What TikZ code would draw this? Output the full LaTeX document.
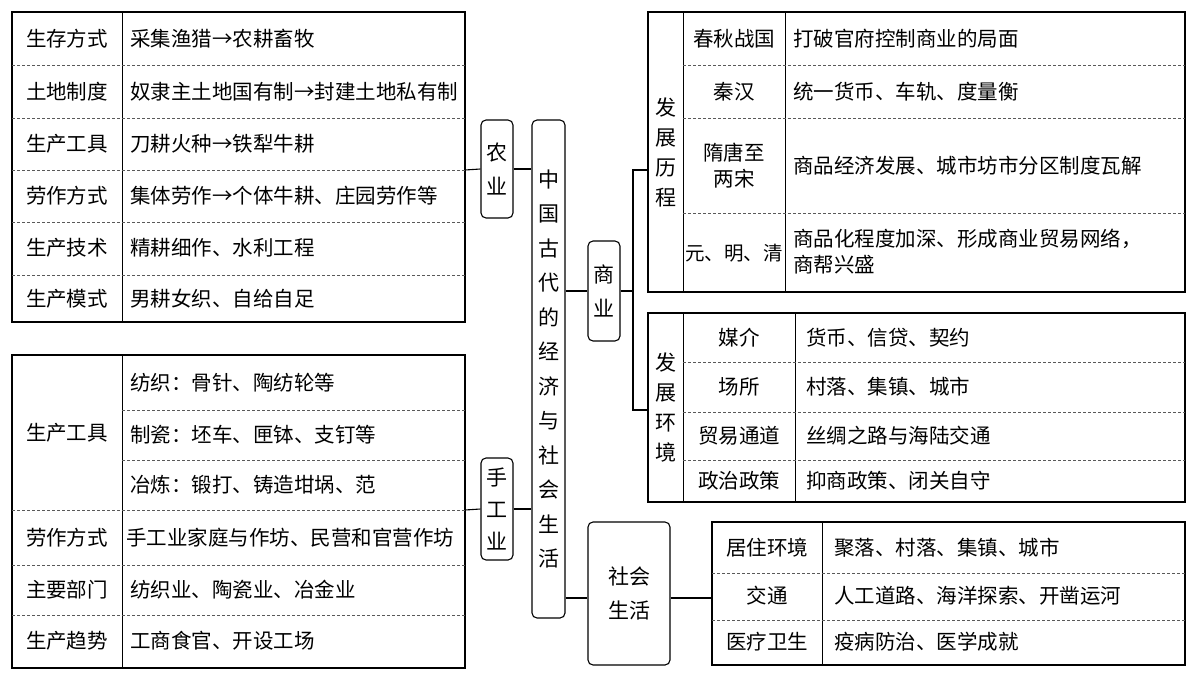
\documentclass[tikz,border=0pt]{standalone}
\usepackage{fontspec}
\setmainfont{Noto Sans CJK SC}
\begin{document}
\begin{tikzpicture}[x=1pt,y=-1pt,
 t/.style={font=\fontsize{20.5}{26}\selectfont,inner sep=0pt,align=center},
 l/.style={t,anchor=west},
 box/.style={draw,line width=1.1pt},
 dl/.style={draw,densely dashed,line width=0.5pt,gray!70!black},
 sl/.style={draw,line width=0.9pt},
 rb/.style={draw,line width=1.1pt,rounded corners=5pt,inner sep=0pt},
 cn/.style={line width=1.1pt}]
\useasboundingbox (0,0) rectangle (1200,675);
% ---- left top table
\draw[box] (12,12) rectangle (465,322);
\draw[sl] (122,12) -- (122,322);
\foreach \y in {65,118,170,222,275} \draw[dl] (12,\y) -- (465,\y);
\node[t] (a1) at (67,39) {生存方式}; \node[l] (b1) at (130,39) {采集渔猎→农耕畜牧};
\node[t] (a2) at (67,92) {土地制度}; \node[l] (b2) at (130,92) {奴隶主土地国有制→封建土地私有制};
\node[t] (a3) at (67,144) {生产工具}; \node[l] (b3) at (130,144) {刀耕火种→铁犁牛耕};
\node[t] (a4) at (67,196) {劳作方式}; \node[l] (b4) at (130,196) {集体劳作→个体牛耕、庄园劳作等};
\node[t] (a5) at (67,248) {生产技术}; \node[l] (b5) at (130,248) {精耕细作、水利工程};
\node[t] (a6) at (67,299) {生产模式}; \node[l] (b6) at (130,299) {男耕女织、自给自足};
\coordinate (T1) at (465,170);
% ---- left bottom table
\draw[box] (12,355) rectangle (465,668);
\draw[sl] (122,355) -- (122,668);
\foreach \y in {410,460} \draw[dl] (122,\y) -- (465,\y);
\foreach \y in {510,565,615} \draw[dl] (12,\y) -- (465,\y);
\node[t] (c1) at (67,433) {生产工具};
\node[l] (d1) at (130,383) {纺织：骨针、陶纺轮等};
\node[l] (d2) at (130,435) {制瓷：坯车、匣钵、支钉等};
\node[l] (d3) at (130,485) {冶炼：锻打、铸造坩埚、范};
\node[t] (c2) at (67,538) {劳作方式}; \node[l] (d4) at (126,538) {手工业家庭与作坊、民营和官营作坊};
\node[t] (c3) at (67,590) {主要部门}; \node[l] (d5) at (130,590) {纺织业、陶瓷业、冶金业};
\node[t] (c4) at (67,641) {生产趋势}; \node[l] (d6) at (130,641) {工商食官、开设工场};
\coordinate (T2) at (465,510);
% ---- middle boxes
\node[rb,t,minimum width=32pt,minimum height=98pt,font=\fontsize{21}{34}\selectfont] (ny) at (497,169) {农\\业};
\node[rb,t,minimum width=32pt,minimum height=102pt,font=\fontsize{21}{32}\selectfont] (sg) at (497,509) {手\\工\\业};
\node[rb,t,minimum width=33pt,minimum height=498pt,font=\fontsize{21}{34.5}\selectfont] (zx) at (548.5,369) {中\\国\\古\\代\\的\\经\\济\\与\\社\\会\\生\\活};
\node[rb,t,minimum width=32pt,minimum height=100pt,font=\fontsize{21}{34}\selectfont] (sy) at (604,291) {商\\业};
\node[rb,t,minimum width=82pt,minimum height=143pt,font=\fontsize{21}{34}\selectfont] (sh) at (629,593.5) {社会\\生活};
\draw[cn] (T1) -- (ny.west);
\draw[cn] (ny.east) -- (ny.east -| zx.west);
\draw[cn] (T2) -- (sg.west);
\draw[cn] (sg.east) -- (sg.east -| zx.west);
\draw[cn] (sy.west -| zx.east) -- (sy.west);
\coordinate (br1) at (633,170);
\coordinate (br2) at (633,410);
\draw[cn] (sy.east) -- (633,291);
\draw[cn] (648,170) -- (br1) -- (br2) -- (648,410);
\draw[cn] (zx.east |- 0,598) -- (sh.west |- 0,598);
\draw[cn] (sh.east |- 0,598) -- (712,598);
% ---- right top table
\draw[box] (648,12) rectangle (1185,292);
\draw[sl] (683,12) -- (683,292); \draw[sl] (785,12) -- (785,292);
\foreach \y in {65,118,213} \draw[dl] (683,\y) -- (1185,\y);
\node[t,font=\fontsize{21}{30}\selectfont] (e0) at (665.5,152) {发\\展\\历\\程};
\node[t] (e1) at (734,39) {春秋战国}; \node[l] (f1) at (793,39) {打破官府控制商业的局面};
\node[t] (e2) at (734,92) {秦汉}; \node[l] (f2) at (793,92) {统一货币、车轨、度量衡};
\node[t] (e3) at (734,166) {隋唐至\\两宋}; \node[l] (f3) at (793,166) {商品经济发展、城市坊市分区制度瓦解};
\node[t,font=\fontsize{19.5}{24}\selectfont] (e4) at (734,253) {元、明、清}; \node[l,align=left] (f4) at (793,252) {商品化程度加深、形成商业贸易网络，\\商帮兴盛};
% ---- right middle table
\draw[box] (648,313) rectangle (1185,502);
\draw[sl] (683,313) -- (683,502); \draw[sl] (795,313) -- (795,502);
\foreach \y in {362,412,460} \draw[dl] (683,\y) -- (1185,\y);
\node[t,font=\fontsize{21}{30}\selectfont] (g0) at (665.5,408) {发\\展\\环\\境};
\node[t] (g1) at (739,338) {媒介}; \node[l] (h1) at (806,338) {货币、信贷、契约};
\node[t] (g2) at (739,387) {场所}; \node[l] (h2) at (806,387) {村落、集镇、城市};
\node[t] (g3) at (739,436) {贸易通道}; \node[l] (h3) at (806,436) {丝绸之路与海陆交通};
\node[t] (g4) at (739,481) {政治政策}; \node[l] (h4) at (806,481) {抑商政策、闭关自守};
% ---- right bottom table
\draw[box] (712,522) rectangle (1185,665);
\draw[sl] (822,522) -- (822,665);
\foreach \y in {573,620} \draw[dl] (712,\y) -- (1185,\y);
\node[t] (i1) at (767,548) {居住环境}; \node[l] (j1) at (834,548) {聚落、村落、集镇、城市};
\node[t] (i2) at (767,596) {交通}; \node[l] (j2) at (834,596) {人工道路、海洋探索、开凿运河};
\node[t] (i3) at (767,642) {医疗卫生}; \node[l] (j3) at (834,642) {疫病防治、医学成就};
\end{tikzpicture}
\end{document}
